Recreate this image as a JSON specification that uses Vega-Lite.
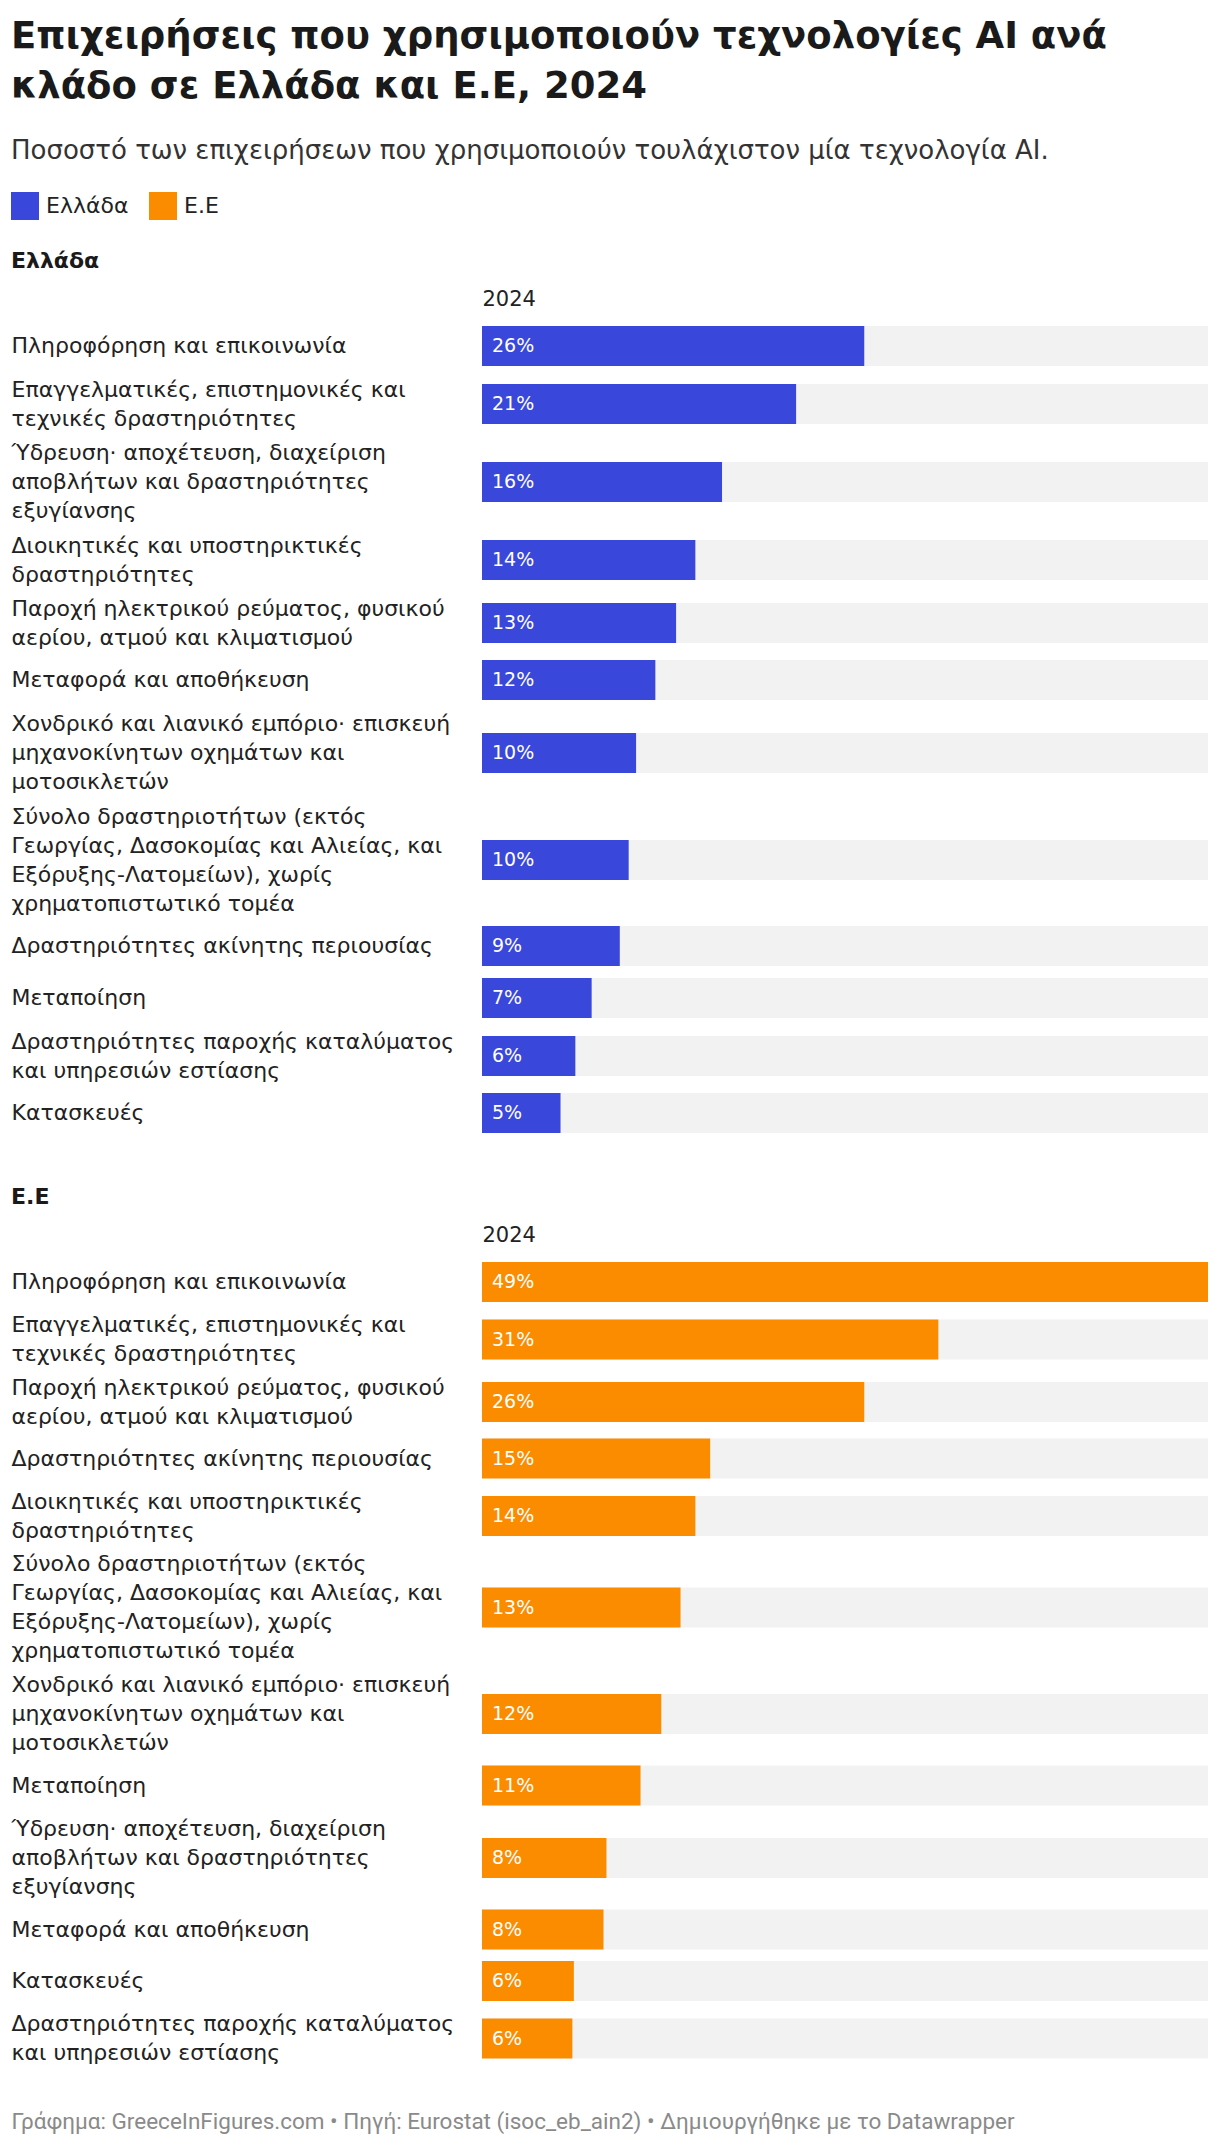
{
  "$schema": "https://vega.github.io/schema/vega-lite/v6.json",
  "background": "white",
  "padding": {"left": 11, "top": 18, "right": 12, "bottom": 10},
  "title": {
    "text": ["Επιχειρήσεις που χρησιμοποιούν τεχνολογίες AI ανά", "κλάδο σε Ελλάδα και Ε.Ε, 2024"],
    "subtitle": "Ποσοστό των επιχειρήσεων που χρησιμοποιούν τουλάχιστον μία τεχνολογία AI.",
    "anchor": "start",
    "frame": "bounds",
    "font": "DejaVu Sans",
    "fontSize": 37,
    "fontWeight": "bold",
    "color": "#1a1a1a",
    "lineHeight": 50,
    "subtitleFont": "DejaVu Sans",
    "subtitleFontSize": 26,
    "subtitleColor": "#333333",
    "subtitlePadding": 32,
    "offset": 27
  },
  "data": {
    "values": [
      {"region": "Ελλάδα", "sector": "Πληροφόρηση και επικοινωνία", "value": 0.258},
      {"region": "Ελλάδα", "sector": "Επαγγελματικές, επιστημονικές και|τεχνικές δραστηριότητες", "value": 0.212},
      {"region": "Ελλάδα", "sector": "Ύδρευση· αποχέτευση, διαχείριση|αποβλήτων και δραστηριότητες|εξυγίανσης", "value": 0.162},
      {"region": "Ελλάδα", "sector": "Διοικητικές και υποστηρικτικές|δραστηριότητες", "value": 0.144},
      {"region": "Ελλάδα", "sector": "Παροχή ηλεκτρικού ρεύματος, φυσικού|αερίου, ατμού και κλιματισμού", "value": 0.131},
      {"region": "Ελλάδα", "sector": "Μεταφορά και αποθήκευση", "value": 0.117},
      {"region": "Ελλάδα", "sector": "Χονδρικό και λιανικό εμπόριο· επισκευή|μηχανοκίνητων οχημάτων και|μοτοσικλετών", "value": 0.104},
      {"region": "Ελλάδα", "sector": "Σύνολο δραστηριοτήτων (εκτός|Γεωργίας, Δασοκομίας και Αλιείας, και|Εξόρυξης-Λατομείων), χωρίς|χρηματοπιστωτικό τομέα", "value": 0.099},
      {"region": "Ελλάδα", "sector": "Δραστηριότητες ακίνητης περιουσίας", "value": 0.093},
      {"region": "Ελλάδα", "sector": "Μεταποίηση", "value": 0.074},
      {"region": "Ελλάδα", "sector": "Δραστηριότητες παροχής καταλύματος|και υπηρεσιών εστίασης", "value": 0.063},
      {"region": "Ελλάδα", "sector": "Κατασκευές", "value": 0.053},
      {"region": "Ε.Ε", "sector": "Πληροφόρηση και επικοινωνία", "value": 0.49},
      {"region": "Ε.Ε", "sector": "Επαγγελματικές, επιστημονικές και|τεχνικές δραστηριότητες", "value": 0.308},
      {"region": "Ε.Ε", "sector": "Παροχή ηλεκτρικού ρεύματος, φυσικού|αερίου, ατμού και κλιματισμού", "value": 0.258},
      {"region": "Ε.Ε", "sector": "Δραστηριότητες ακίνητης περιουσίας", "value": 0.154},
      {"region": "Ε.Ε", "sector": "Διοικητικές και υποστηρικτικές|δραστηριότητες", "value": 0.144},
      {"region": "Ε.Ε", "sector": "Σύνολο δραστηριοτήτων (εκτός|Γεωργίας, Δασοκομίας και Αλιείας, και|Εξόρυξης-Λατομείων), χωρίς|χρηματοπιστωτικό τομέα", "value": 0.134},
      {"region": "Ε.Ε", "sector": "Χονδρικό και λιανικό εμπόριο· επισκευή|μηχανοκίνητων οχημάτων και|μοτοσικλετών", "value": 0.121},
      {"region": "Ε.Ε", "sector": "Μεταποίηση", "value": 0.107},
      {"region": "Ε.Ε", "sector": "Ύδρευση· αποχέτευση, διαχείριση|αποβλήτων και δραστηριότητες|εξυγίανσης", "value": 0.084},
      {"region": "Ε.Ε", "sector": "Μεταφορά και αποθήκευση", "value": 0.082},
      {"region": "Ε.Ε", "sector": "Κατασκευές", "value": 0.062},
      {"region": "Ε.Ε", "sector": "Δραστηριότητες παροχής καταλύματος|και υπηρεσιών εστίασης", "value": 0.061}
    ]
  },
  "spacing": 53,
  "vconcat": [
    {
      "title": {"text": "Ελλάδα", "anchor": "start", "frame": "bounds", "fontSize": 22, "fontWeight": "bold", "color": "#1a1a1a", "offset": 15},
      "transform": [{"filter": "datum.region === 'Ελλάδα'"}],
      "facet": {"row": {"field": "sector", "type": "nominal", "sort": {"field": "value", "op": "max", "order": "descending"}, "header": {"title": null, "labels": false}}},
      "spacing": {"row": 12},
      "align": "each",
      "resolve": {"scale": {"y": "independent"}, "axis": {"y": "independent"}},
      "spec": {
        "width": 726,
        "height": 40,
        "encoding": {
          "y": {
            "field": "sector", "type": "nominal",
            "scale": {"paddingInner": 0, "paddingOuter": 0},
            "axis": {"title": null, "labelAlign": "left", "labelBaseline": "middle", "labelPadding": 471, "labelLimit": 472, "labelFontSize": 22, "labelColor": "#222222", "labelLineHeight": 29, "labelExpr": "split(datum.label, '|')",
              "labelOffset": {"condition": [
                {"test": "length(split(datum.value, '|')) == 2", "value": -14.5},
                {"test": "length(split(datum.value, '|')) == 3", "value": -29},
                {"test": "length(split(datum.value, '|')) == 4", "value": -43.5}
              ], "value": 0},
              "ticks": false, "domain": false, "grid": false}
          }
        },
        "layer": [
          {
            "mark": {"type": "bar", "color": "#f2f2f2"},
            "encoding": {"x": {"datum": 0, "type": "quantitative"}, "x2": {"value": "width"}}
          },
          {
            "mark": {"type": "bar"},
            "encoding": {
              "x": {"field": "value", "type": "quantitative", "scale": {"domain": [0, 0.49], "nice": false},
                "axis": {"orient": "top", "title": "2024", "titleAnchor": "start", "titleAlign": "left", "titleFontSize": 21, "titleFontWeight": "normal", "titleColor": "#222222", "titlePadding": 21, "titleBaseline": "alphabetic", "labels": false, "ticks": false, "domain": false, "grid": false}},
              "color": {"field": "region", "type": "nominal",
                "scale": {"domain": ["Ελλάδα", "Ε.Ε"], "range": ["#3a47db", "#fb8c00"]},
                "legend": {"orient": "none", "legendX": -471, "legendY": -134, "direction": "horizontal", "title": null, "symbolType": "square", "symbolSize": 784, "symbolStrokeWidth": 0, "symbolOpacity": 1, "labelFontSize": 22, "labelColor": "#222222", "labelOffset": 7, "columnPadding": 20}}
            }
          },
          {
            "mark": {"type": "text", "align": "left", "baseline": "middle", "dx": 10, "color": "white", "fontSize": 19},
            "encoding": {"x": {"datum": 0, "type": "quantitative"}, "text": {"field": "value", "type": "quantitative", "format": ".0%"}}
          }
        ]
      }
    },
    {
      "spacing": 46,
      "resolve": {"scale": {"color": "shared"}, "legend": {"color": "shared"}},
      "vconcat": [
        {
          "title": {"text": "Ε.Ε", "anchor": "start", "frame": "bounds", "fontSize": 22, "fontWeight": "bold", "color": "#1a1a1a", "offset": 15},
          "transform": [{"filter": "datum.region === 'Ε.Ε'"}],
          "facet": {"row": {"field": "sector", "type": "nominal", "sort": {"field": "value", "op": "max", "order": "descending"}, "header": {"title": null, "labels": false}}},
          "spacing": {"row": 11.5},
          "align": "each",
          "resolve": {"scale": {"y": "independent"}, "axis": {"y": "independent"}},
          "spec": {
            "width": 726,
            "height": 40,
            "encoding": {
              "y": {
                "field": "sector", "type": "nominal",
                "scale": {"paddingInner": 0, "paddingOuter": 0},
                "axis": {"title": null, "labelAlign": "left", "labelBaseline": "middle", "labelPadding": 471, "labelLimit": 472, "labelFontSize": 22, "labelColor": "#222222", "labelLineHeight": 29, "labelExpr": "split(datum.label, '|')",
                  "labelOffset": {"condition": [
                    {"test": "length(split(datum.value, '|')) == 2", "value": -14.5},
                    {"test": "length(split(datum.value, '|')) == 3", "value": -29},
                    {"test": "length(split(datum.value, '|')) == 4", "value": -43.5}
                  ], "value": 0},
                  "ticks": false, "domain": false, "grid": false}
              }
            },
            "layer": [
              {
                "mark": {"type": "bar", "color": "#f2f2f2"},
                "encoding": {"x": {"datum": 0, "type": "quantitative"}, "x2": {"value": "width"}}
              },
              {
                "mark": {"type": "bar"},
                "encoding": {
                  "x": {"field": "value", "type": "quantitative", "scale": {"domain": [0, 0.49], "nice": false},
                    "axis": {"orient": "top", "title": "2024", "titleAnchor": "start", "titleAlign": "left", "titleFontSize": 21, "titleFontWeight": "normal", "titleColor": "#222222", "titlePadding": 21, "titleBaseline": "alphabetic", "labels": false, "ticks": false, "domain": false, "grid": false}},
                  "color": {"field": "region", "type": "nominal",
                    "scale": {"domain": ["Ελλάδα", "Ε.Ε"], "range": ["#3a47db", "#fb8c00"]}}
                }
              },
              {
                "mark": {"type": "text", "align": "left", "baseline": "middle", "dx": 10, "color": "white", "fontSize": 19},
                "encoding": {"x": {"datum": 0, "type": "quantitative"}, "text": {"field": "value", "type": "quantitative", "format": ".0%"}}
              }
            ]
          }
        },
        {
          "width": 726,
          "height": 22,
          "data": {"values": [{"note": "Γράφημα: GreeceInFigures.com • Πηγή: Eurostat (isoc_eb_ain2) • Δημιουργήθηκε με το Datawrapper"}]},
          "mark": {"type": "point", "opacity": 0},
          "encoding": {"y": {"field": "note", "type": "nominal", "axis": {"title": null, "labelAlign": "left", "labelBaseline": "middle", "labelPadding": 471, "labelLimit": 1200, "labelFont": "Roboto", "labelFontSize": 22.5, "labelColor": "#8a8a8a", "ticks": false, "domain": false, "grid": false}}}
        }
      ]
    }
  ],
  "resolve": {"scale": {"color": "shared"}, "legend": {"color": "shared"}},
  "config": {
    "font": "DejaVu Sans",
    "view": {"stroke": null}
  }
}
